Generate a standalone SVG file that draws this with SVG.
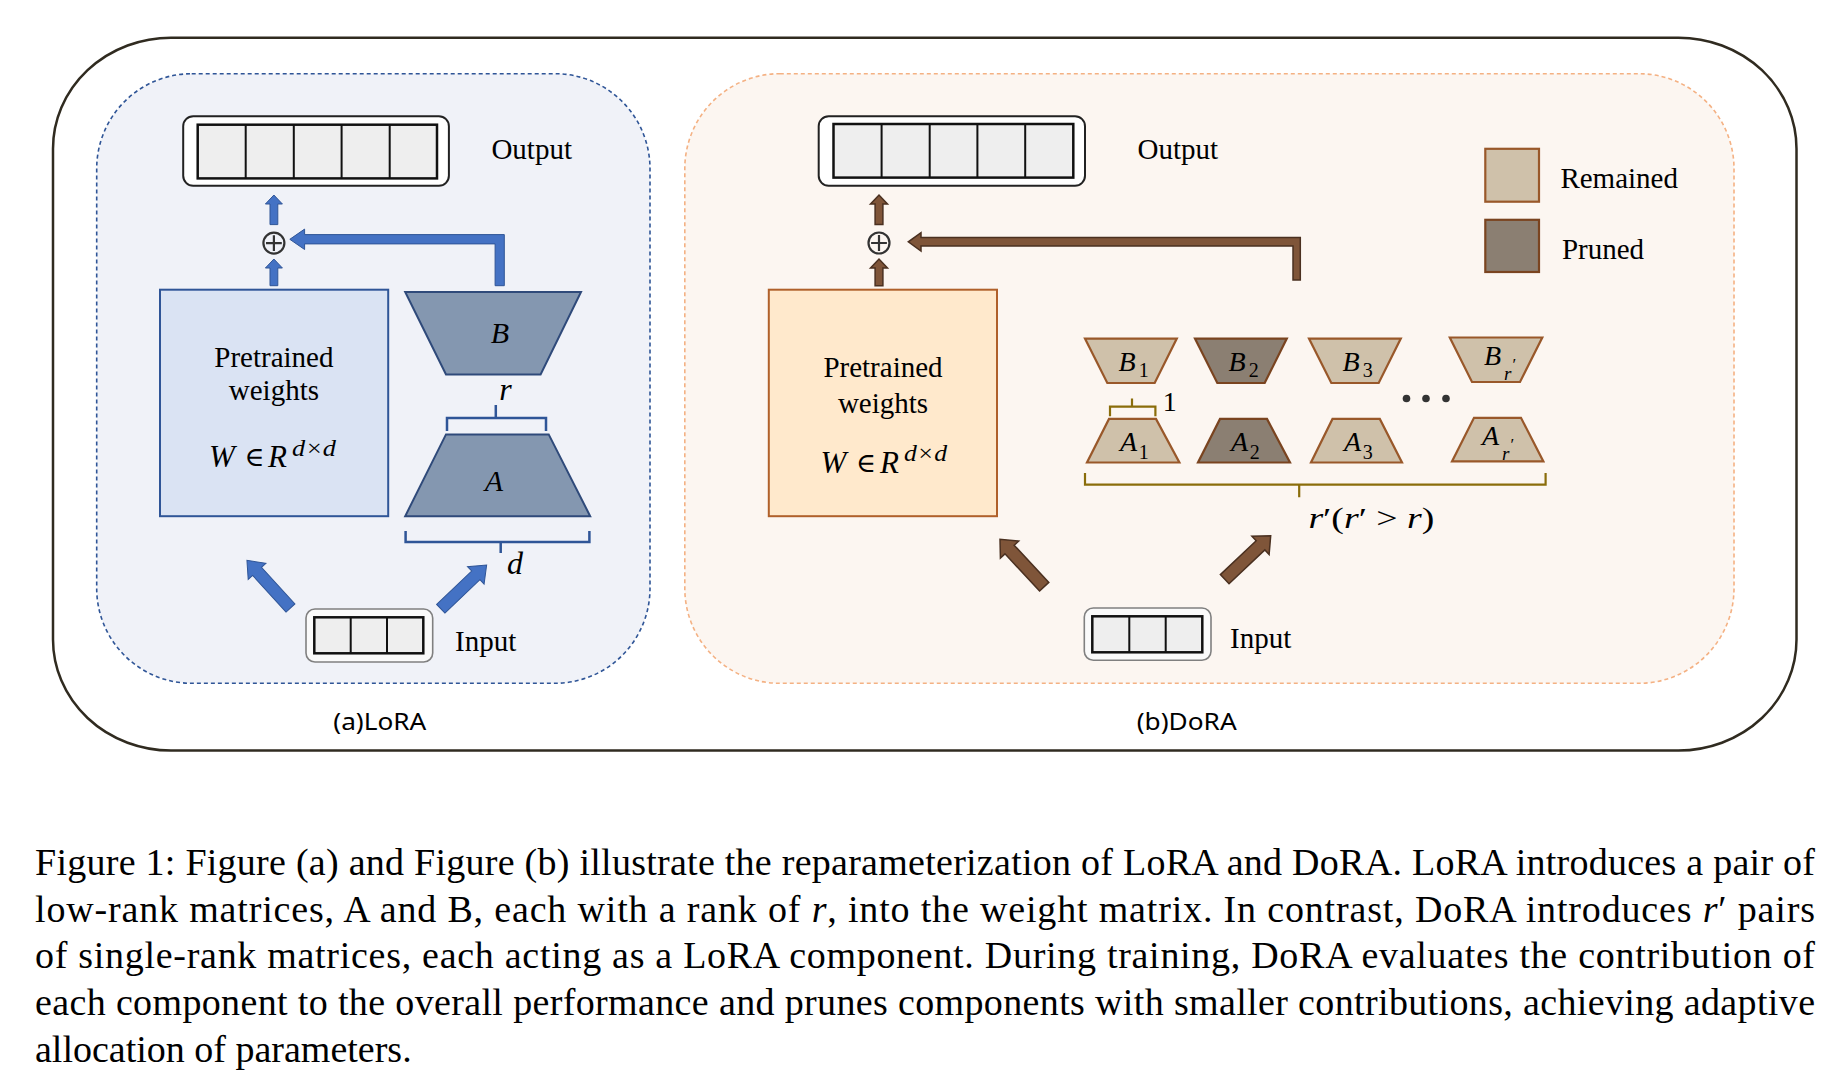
<svg xmlns="http://www.w3.org/2000/svg" width="1846" height="1086" viewBox="0 0 1846 1086">
<style>
text{font-family:"Liberation Serif","Times New Roman",serif;fill:#000}
.lbl{font-size:29px}
.it{font-style:italic}
.sans{font-family:"Noto Sans","Liberation Sans",sans-serif;font-size:23px}
.cap{font-size:38px}
.elem{font-family:"DejaVu Serif","Liberation Serif",serif;font-size:27px}
.cell{fill:#eeeeee;stroke:#111;stroke-width:2.5}
.outbox{fill:#ffffff;stroke:#222;stroke-width:2}
.inbox{fill:#fafafa;stroke:#808080;stroke-width:1.6}
.div{stroke:#111;stroke-width:2}
.bA{fill:#8497b0;stroke:#2f4a7a;stroke-width:2}
.blue{fill:#4472c4;stroke:#2f5597;stroke-width:1}
.brown{fill:#7f5539;stroke:#4a3020;stroke-width:1.5}
.rem{fill:#cfc1aa;stroke:#99582a;stroke-width:2.2}
.pru{fill:#8b7f72;stroke:#7a4420;stroke-width:2.2}
.brk{fill:none;stroke:#2f5597;stroke-width:2.5}
.obrk{fill:none;stroke:#8a6d0b;stroke-width:2.2}
.oplus{fill:none;stroke:#333;stroke-width:2.2}
.sub{font-size:20px;font-style:normal}
</style>

<rect id="outer" x="53" y="37.7" width="1743.5" height="712.8" rx="118" ry="111" fill="#ffffff" stroke="#302b20" stroke-width="2.5"/>

<g id="panel-lora">
<rect x="96.7" y="73.7" width="553.3" height="609.6" rx="95" ry="95" fill="#f0f2f8" stroke="#2f5597" stroke-width="1.6" stroke-dasharray="4 3"/>
<text class="sans" x="333.3" y="730" textLength="93" lengthAdjust="spacingAndGlyphs">(a)LoRA</text>
</g>

<g id="panel-dora">
<rect x="684.8" y="73.7" width="1049.2" height="609.6" rx="95" ry="95" fill="#fcf6f1" stroke="#f4b183" stroke-width="1.6" stroke-dasharray="4 3"/>
<text class="sans" x="1136.7" y="730" textLength="100" lengthAdjust="spacingAndGlyphs">(b)DoRA</text>
</g>

<!-- LoRA nodes -->
<g id="lora-output">
<rect class="outbox" x="183.2" y="116.2" width="265.7" height="69.6" rx="10"/>
<rect class="cell" x="197.7" y="124.7" width="239.3" height="53.7"/>
<path class="div" d="M245.7 124.7V178.4M293.8 124.7V178.4M341.6 124.7V178.4M389.7 124.7V178.4"/>
<text class="lbl" x="491.4" y="159">Output</text>
</g>

<g id="lora-plus">
<circle class="oplus" cx="273.9" cy="243.1" r="10.5"/>
<path class="oplus" d="M266 243.1H281.8M273.9 235.2V251"/>
</g>

<g id="lora-pretrained">
<rect x="160" y="289.7" width="228.2" height="226.5" fill="#dae3f3" stroke="#2f5597" stroke-width="2"/>
<text class="lbl" x="273.9" y="367" text-anchor="middle">Pretrained</text>
<text class="lbl" x="273.9" y="400" text-anchor="middle">weights</text>
<text x="209" y="467" font-size="31" class="it">W</text>
<text class="elem" x="244.5" y="466">∈</text>
<text x="268" y="467" font-size="31" class="it">R</text>
<text x="292" y="456" font-size="23" class="it" textLength="44" lengthAdjust="spacingAndGlyphs">d×d</text>
</g>

<g id="lora-B">
<polygon class="bA" points="405.2,292 581,292 540.6,374.5 446,374.5"/>
<text x="500" y="343" font-size="30" class="it" text-anchor="middle">B</text>
</g>

<g id="lora-r">
<path class="brk" d="M495.8 405V418M447 431V418H546V431"/>
<text x="505.5" y="400" font-size="32" class="it" text-anchor="middle">r</text>
</g>

<g id="lora-A">
<polygon class="bA" points="446,434.4 548.7,434.4 590.2,516.2 405.2,516.2"/>
<text x="494" y="491" font-size="30" class="it" text-anchor="middle">A</text>
</g>

<g id="lora-d">
<path class="brk" d="M405.6 531V542H589.4V531M500.7 542V553"/>
<text x="515" y="574" font-size="32" class="it" text-anchor="middle">d</text>
</g>

<g id="lora-input">
<rect class="inbox" x="306" y="609" width="126.7" height="53" rx="9"/>
<rect class="cell" x="314.3" y="617.3" width="109" height="36" stroke-width="2"/>
<path class="div" d="M350.7 617.3V653.3M387 617.3V653.3" stroke="#333"/>
<text class="lbl" x="455" y="650.7">Input</text>
</g>

<!-- DoRA nodes -->
<g id="dora-output">
<rect class="outbox" x="818.7" y="116.2" width="266.3" height="69.6" rx="10"/>
<rect class="cell" x="833.5" y="124" width="239.8" height="53.6"/>
<path class="div" d="M881.6 124V177.6M929.7 124V177.6M977.4 124V177.6M1025.2 124V177.6"/>
<text class="lbl" x="1137.6" y="159">Output</text>
</g>

<g id="dora-plus">
<circle class="oplus" cx="879" cy="243" r="10.5"/>
<path class="oplus" d="M871.1 243H886.9M879 235.1V250.9"/>
</g>

<g id="dora-pretrained">
<rect x="768.8" y="289.7" width="228.2" height="226.5" fill="#ffe9cc" stroke="#b0602a" stroke-width="2"/>
<text class="lbl" x="883" y="377" text-anchor="middle">Pretrained</text>
<text class="lbl" x="883" y="413" text-anchor="middle">weights</text>
<text x="820.6" y="472.5" font-size="31" class="it">W</text>
<text class="elem" x="856" y="471.5">∈</text>
<text x="880" y="472.5" font-size="31" class="it">R</text>
<text x="904" y="461.4" font-size="23" class="it" textLength="43" lengthAdjust="spacingAndGlyphs">d×d</text>
</g>

<g id="legend">
<rect class="rem" x="1485.3" y="148.8" width="53.7" height="52.9"/>
<text class="lbl" x="1560.4" y="187.6">Remained</text>
<rect class="pru" x="1485.3" y="219.8" width="53.7" height="52.2"/>
<text class="lbl" x="1561.9" y="258.7">Pruned</text>
</g>

<g id="B1">
<polygon class="rem" points="1085,338.6 1176.8,338.6 1154.7,383 1107.3,383"/>
<text x="1118.4" y="370.8" font-size="28" class="it">B<tspan class="sub" x="1138.7" y="377.4">1</tspan></text>
</g>
<g id="B2">
<polygon class="pru" points="1195,338.6 1286.8,338.6 1264.7,383 1217.3,383"/>
<text x="1228.4" y="370.8" font-size="28" class="it">B<tspan class="sub" x="1248.7" y="377.4">2</tspan></text>
</g>
<g id="B3">
<polygon class="rem" points="1309,338.6 1400.8,338.6 1378.7,383 1331.3,383"/>
<text x="1342.4" y="370.8" font-size="28" class="it">B<tspan class="sub" x="1362.7" y="377.4">3</tspan></text>
</g>
<g id="Br">
<polygon class="rem" points="1449.8,337.5 1542.3,337.5 1520,382 1472,382"/>
<text x="1484" y="365.2" font-size="28" class="it">B</text>
<text x="1504" y="380" font-size="19" class="it">r</text>
<text x="1512.5" y="370" font-size="17">′</text>
</g>

<g id="A1">
<polygon class="rem" points="1109,418.9 1156,418.9 1179.4,462.5 1087,462.5"/>
<text x="1120" y="451.4" font-size="28" class="it">A<tspan class="sub" x="1138.7" y="458.8">1</tspan></text>
</g>
<g id="A2">
<polygon class="pru" points="1220,418.9 1267,418.9 1290,462.5 1198,462.5"/>
<text x="1231" y="451.4" font-size="28" class="it">A<tspan class="sub" x="1249.7" y="458.8">2</tspan></text>
</g>
<g id="A3">
<polygon class="rem" points="1332.5,418.9 1379.8,418.9 1402,462.5 1311,462.5"/>
<text x="1344" y="451.4" font-size="28" class="it">A<tspan class="sub" x="1362.7" y="458.8">3</tspan></text>
</g>
<g id="Ar">
<polygon class="rem" points="1474,417.8 1521,417.8 1543.4,461.4 1452,461.4"/>
<text x="1482" y="444.8" font-size="28" class="it">A</text>
<text x="1502" y="459.6" font-size="19" class="it">r</text>
<text x="1510.5" y="450" font-size="17">′</text>
</g>

<g id="dots" fill="#333">
<circle cx="1406.5" cy="398.5" r="3.8"/>
<circle cx="1426" cy="398.5" r="3.8"/>
<circle cx="1446" cy="398.5" r="3.8"/>
</g>

<g id="rank-one">
<path class="obrk" d="M1132 398.5V406.7M1110 416.3V406.7H1155.4V416.3"/>
<text x="1162.8" y="410.7" font-size="28">1</text>
</g>

<g id="rank-total">
<path class="obrk" d="M1085 473V484.7H1545.6V473M1299.2 484.7V497.3"/>
<text x="1308.4" y="528" font-size="30" textLength="126" lengthAdjust="spacingAndGlyphs"><tspan class="it">r</tspan>′(<tspan class="it">r</tspan>′ &gt; <tspan class="it">r</tspan>)</text>
</g>

<g id="dora-input">
<rect class="inbox" x="1084.3" y="608" width="126.7" height="52.3" rx="9"/>
<rect class="cell" x="1092.3" y="616.3" width="110" height="36" stroke-width="2"/>
<path class="div" d="M1129.3 616.3V652.3M1165.7 616.3V652.3" stroke="#333"/>
<text class="lbl" x="1230" y="648.3">Input</text>
</g>

<!-- connectors -->
<g id="connectors">
<polygon class="blue" points="270,224.6 270,204 265.4,204 273.9,195 282.4,204 277.8,204 277.8,224.6"/>
<polygon class="blue" points="270,285.7 270,268 265.4,268 273.9,259 282.4,268 277.8,268 277.8,285.7"/>
<polygon class="blue" points="495.1,285.7 495.1,243.9 304.6,243.9 304.6,249.5 289.8,239.3 304.6,229.1 304.6,234.6 504.3,234.6 504.3,285.7"/>
<polygon class="blue" transform="translate(290.5,608) rotate(-132.4)" points="0,-6 49.6,-6 49.6,-12 64.6,0 49.6,12 49.6,6 0,6"/>
<polygon class="blue" transform="translate(440.8,608.8) rotate(-43.7)" points="0,-6 48.4,-6 48.4,-12 63.4,0 48.4,12 48.4,6 0,6"/>

<polygon class="brown" points="875.1,224.6 875.1,204 870.5,204 879,195 887.5,204 882.9,204 882.9,224.6"/>
<polygon class="brown" points="875.1,285.7 875.1,268 870.5,268 879,259 887.5,268 882.9,268 882.9,285.7"/>
<polygon class="brown" points="1293,280 1293,246 921,246 921,251 908.3,241.8 921,232.6 921,237.6 1300.3,237.6 1300.3,280"/>
<polygon class="brown" transform="translate(1044.2,586.7) rotate(-133)" points="0,-6.3 50.8,-6.3 50.8,-12.5 64.8,0 50.8,12.5 50.8,6.3 0,6.3"/>
<polygon class="brown" transform="translate(1224.7,579.2) rotate(-43.4)" points="0,-6.3 49.3,-6.3 49.3,-12.5 63.3,0 49.3,12.5 49.3,6.3 0,6.3"/>
</g>

<g id="caption">
<text class="cap" x="35" y="875" textLength="1780" lengthAdjust="spacing">Figure 1: Figure (a) and Figure (b) illustrate the reparameterization of LoRA and DoRA. LoRA introduces a pair of</text>
<text class="cap" x="35" y="921.7" textLength="1780" lengthAdjust="spacing">low-rank matrices, A and B, each with a rank of <tspan class="it">r</tspan>, into the weight matrix. In contrast, DoRA introduces <tspan class="it">r</tspan>′ pairs</text>
<text class="cap" x="35" y="968.3" textLength="1780" lengthAdjust="spacing">of single-rank matrices, each acting as a LoRA component. During training, DoRA evaluates the contribution of</text>
<text class="cap" x="35" y="1015" textLength="1780" lengthAdjust="spacing">each component to the overall performance and prunes components with smaller contributions, achieving adaptive</text>
<text class="cap" x="35" y="1061.7">allocation of parameters.</text>
</g>
</svg>
